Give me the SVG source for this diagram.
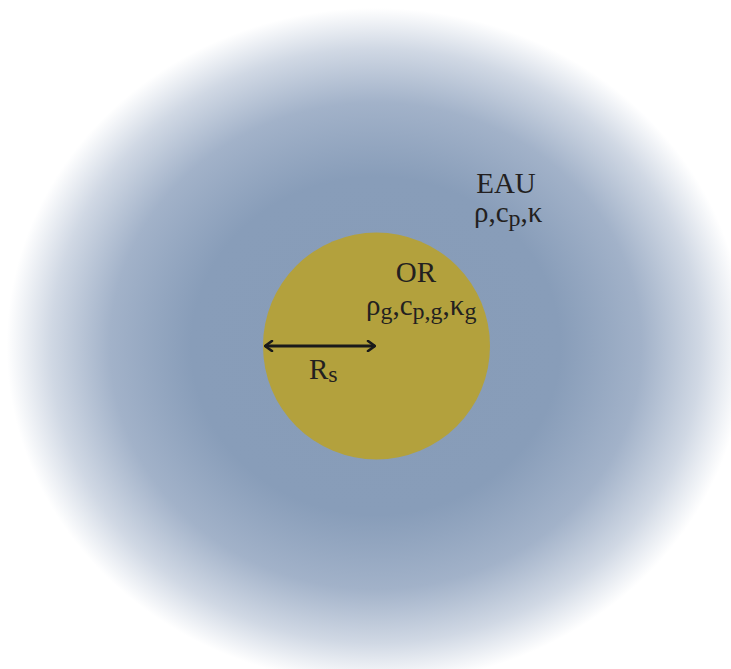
<svg xmlns="http://www.w3.org/2000/svg" width="731" height="669" viewBox="0 0 731 669">
<defs>
<radialGradient id="bg" cx="0.514" cy="0.517" r="0.505" fx="0.514" fy="0.517">
<stop offset="0" stop-color="#879cb8"/>
<stop offset="0.5" stop-color="#889db9"/>
<stop offset="0.72" stop-color="#a2b2c9"/>
<stop offset="0.88" stop-color="#d0d8e4"/>
<stop offset="1" stop-color="#ffffff"/>
</radialGradient>
<marker id="chev" viewBox="0 0 10 12" refX="9" refY="6" markerWidth="10" markerHeight="12" markerUnits="userSpaceOnUse" orient="auto-start-reverse">
<path d="M2,1 L9,6 L2,11" fill="none" stroke="#1a1a1a" stroke-width="2.6" stroke-linecap="round" stroke-linejoin="round"/>
</marker>
<style>
text{font-family:"Liberation Serif","Times New Roman",serif;fill:#231f20;}
.lbl{font-size:29px;}
.sub{font-size:24px;}
</style>
</defs>
<rect width="731" height="669" fill="url(#bg)"/>
<g id="EAU">
<text class="lbl" x="506" y="193" text-anchor="middle">EAU</text>
<text class="lbl" x="474" y="222">ρ,c<tspan class="sub" dy="4">p</tspan><tspan dy="-4">,κ</tspan></text>
</g>
<g id="OR">
<circle cx="376.5" cy="346" r="113.5" fill="#b3a13d"/>
<text class="lbl" x="416" y="282" text-anchor="middle">OR</text>
<text class="lbl" x="366" y="315">ρ<tspan class="sub" dy="4">g</tspan><tspan dy="-4">,c</tspan><tspan class="sub" dy="4">p,g</tspan><tspan dy="-4">,κ</tspan><tspan class="sub" dy="4">g</tspan></text>
</g>
<g id="connectors">
<line x1="265" y1="346" x2="375" y2="346" stroke="#1a1a1a" stroke-width="3" marker-start="url(#chev)" marker-end="url(#chev)"/>
</g>
<g id="Rs">
<text class="lbl" x="309" y="379">R<tspan class="sub" dy="3">s</tspan></text>
</g>
</svg>
